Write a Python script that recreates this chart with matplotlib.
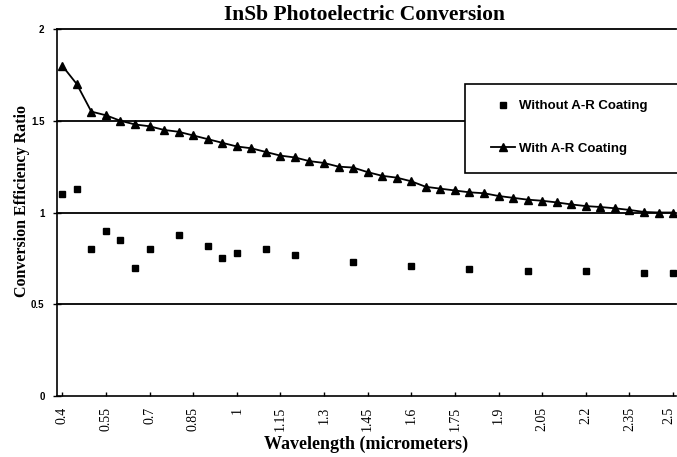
import matplotlib.pyplot as plt
import matplotlib.transforms as mtransforms
from matplotlib.patches import Rectangle

# InSb photoelectric conversion: with / without anti-reflection coating

wavelength = [0.40, 0.45, 0.50, 0.55, 0.60, 0.65, 0.70, 0.75, 0.80, 0.85,
              0.90, 0.95, 1.00, 1.05, 1.10, 1.15, 1.20, 1.25, 1.30, 1.35,
              1.40, 1.45, 1.50, 1.55, 1.60, 1.65, 1.70, 1.75, 1.80, 1.85,
              1.90, 1.95, 2.00, 2.05, 2.10, 2.15, 2.20, 2.25, 2.30, 2.35,
              2.40, 2.45, 2.50]
with_ar = [1.80, 1.70, 1.55, 1.53, 1.50, 1.48, 1.47, 1.45, 1.44, 1.42,
           1.40, 1.38, 1.36, 1.35, 1.33, 1.31, 1.30, 1.28, 1.27, 1.25,
           1.245, 1.22, 1.20, 1.19, 1.17, 1.14, 1.13, 1.12, 1.11, 1.105,
           1.09, 1.08, 1.07, 1.064, 1.055, 1.044, 1.035, 1.03, 1.023, 1.014,
           1.003, 1.0, 1.0]

wl_without = [0.40, 0.45, 0.50, 0.55, 0.60, 0.65, 0.70, 0.80, 0.90, 0.95,
              1.00, 1.10, 1.20, 1.40, 1.60, 1.80, 2.00, 2.20, 2.40, 2.50]
without_ar = [1.10, 1.13, 0.80, 0.90, 0.85, 0.70, 0.80, 0.88, 0.82, 0.75,
              0.78, 0.80, 0.77, 0.73, 0.71, 0.69, 0.68, 0.68, 0.67, 0.67]

xtick_vals = [0.4, 0.55, 0.7, 0.85, 1.0, 1.15, 1.3, 1.45, 1.6, 1.75,
              1.9, 2.05, 2.2, 2.35, 2.5]
xtick_labels = ['0.4', '0.55', '0.7', '0.85', '1', '1.15', '1.3', '1.45',
                '1.6', '1.75', '1.9', '2.05', '2.2', '2.35', '2.5']
ytick_vals = [0, 0.5, 1, 1.5, 2]
ytick_labels = ['0', '0.5', '1', '1.5', '2']

serif = 'Liberation Serif'
sans = 'Liberation Sans'

fig = plt.figure(figsize=(6.77, 4.57), dpi=100)
ax = fig.add_axes([0.0842, 0.1335, 0.9143, 0.803])

# horizontal grid lines
for yv in ytick_vals[1:]:
    ax.axhline(yv, color='black', lw=1.3, zorder=1, clip_on=False)

ax.plot(wl_without, without_ar, ls='none', marker='s', ms=4.5,
        color='black', label='Without A-R Coating', zorder=3)
ax.plot(wavelength, with_ar, color='black', lw=1.3, marker='^', ms=5.5,
        label='With A-R Coating', zorder=3)

ax.set_xlim(0.382, 2.51)
ax.set_ylim(0, 2)

ax.spines['right'].set_visible(False)
ax.spines['top'].set_visible(False)
ax.spines['left'].set_linewidth(1.2)
ax.spines['bottom'].set_linewidth(1.2)

ax.set_xticks(xtick_vals)
ax.set_xticklabels(xtick_labels, rotation=90, family=serif, fontsize=10)
ax.set_yticks(ytick_vals)
ax.set_yticklabels(ytick_labels, family=sans, fontweight='bold', fontsize=7)
ax.tick_params(axis='x', direction='in', length=3, width=1, pad=8)
ax.tick_params(axis='y', direction='inout', length=6, width=1, pad=6)

# nudge the last x label so it stays inside the picture
last = ax.get_xticklabels()[-1]
last.set_transform(last.get_transform() +
                   mtransforms.ScaledTranslation(-3 / 72, 0, fig.dpi_scale_trans))

ax.set_xlabel('Wavelength (micrometers)', family=serif, fontweight='bold',
              fontsize=13)
ax.xaxis.set_label_coords(0.5, -0.108)
ax.set_ylabel('Conversion Efficiency Ratio', family=serif, fontweight='bold',
              fontsize=11.5)
ax.yaxis.set_label_coords(-0.044, 0.531)
fig.text(0.539, 0.968, 'InSb Photoelectric Conversion', family=serif,
         fontweight='bold', fontsize=15.5, ha='center', va='center')

# legend frame runs off the right edge, as in the original
ax.add_patch(Rectangle((0.659, 0.608), 0.40, 0.2425, transform=ax.transAxes,
                       facecolor='white', edgecolor='black', lw=1.2,
                       clip_on=False, zorder=4))
leg = ax.legend(loc='upper left', bbox_to_anchor=(0.701, 0.806),
                borderaxespad=0, borderpad=0, frameon=False,
                labelspacing=2.3, handlelength=1.8, handletextpad=0.3,
                prop={'family': sans, 'weight': 'bold', 'size': 9.5})
leg.set_zorder(5)

fig.savefig('out.png', dpi=100)
